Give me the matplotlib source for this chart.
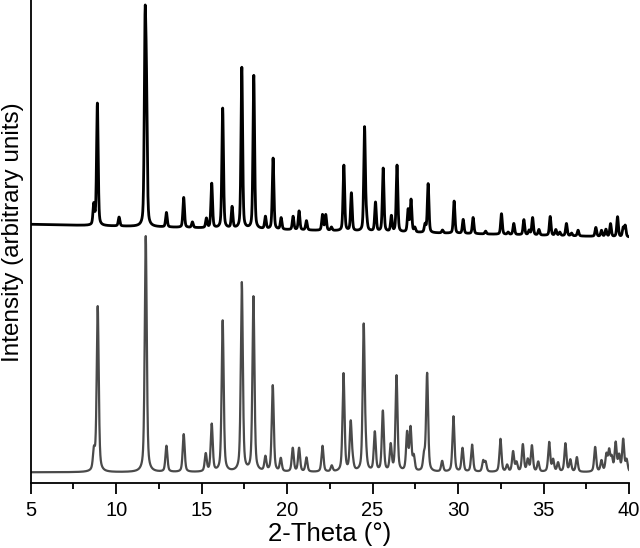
import numpy as np
import matplotlib
matplotlib.use("Agg")
import matplotlib.pyplot as plt

plt.rcParams['font.family'] = ['Liberation Sans', 'DejaVu Sans']

# ---- Simulated pattern (bottom, gray): peak positions (deg 2-theta) and relative intensities
sim_pos = [8.70, 8.92, 11.73, 12.94, 13.95, 15.24, 15.59, 16.23, 17.35, 18.03,
           18.73, 19.16, 19.63, 20.33, 20.70, 21.13, 22.07, 22.61, 23.30, 23.72,
           23.84, 24.48, 24.60, 25.13, 25.60, 26.06, 26.40, 27.02, 27.22, 27.41,
           28.01, 28.19, 29.07, 29.73, 30.26, 30.82, 31.47, 31.61, 32.48, 32.87,
           33.22, 33.42, 33.79, 34.08, 34.32, 34.69, 35.33, 35.56, 35.85, 36.28,
           36.57, 36.95, 38.02, 38.39, 38.68, 38.84, 38.99, 39.22, 39.42, 39.66, 39.86]
sim_int = [8.0, 70.0, 100.0, 11.0, 16.0, 7.5, 20.0, 64.0, 80.0, 74.0,
           6.0, 36.5, 5.5, 10.0, 10.0, 6.0, 11.0, 2.5, 41.5, 20.5,
           3.0, 61.5, 6.0, 16.5, 25.5, 11.0, 40.5, 16.0, 18.0, 6.0,
           6.0, 41.5, 4.5, 23.5, 10.0, 11.5, 4.5, 4.0, 14.0, 2.8,
           8.5, 3.8, 11.5, 5.0, 11.0, 4.2, 12.5, 5.0, 3.8, 12.0,
           5.0, 6.2, 10.5, 4.6, 7.0, 8.5, 5.5, 12.0, 6.5, 13.5, 4.8]

# ---- Experimental pattern (top, black): peak positions and relative intensities
exp_pos = [8.69, 8.90, 10.17, 11.69, 11.77, 12.94, 13.95, 14.46, 15.28, 15.59,
           16.23, 16.78, 17.35, 18.05, 18.73, 19.18, 19.65, 20.35, 20.70, 21.13,
           22.07, 22.26, 22.59, 23.32, 23.76, 24.53, 24.64, 25.17, 25.62, 26.10,
           26.43, 27.08, 27.25, 27.47, 28.07, 28.25, 29.09, 29.77, 30.30, 30.88,
           31.61, 32.54, 32.93, 33.26, 33.85, 34.16, 34.36, 34.73, 35.39, 35.72,
           35.95, 36.34, 36.64, 37.02, 38.06, 38.39, 38.65, 38.92, 39.33, 39.66, 39.78]
exp_int = [9.0, 55.0, 4.0, 84.0, 52.0, 6.5, 13.5, 2.5, 4.2, 20.0,
           54.0, 9.5, 72.5, 69.0, 5.5, 32.0, 5.2, 6.0, 8.5, 4.2,
           7.0, 7.0, 1.5, 29.5, 17.0, 46.5, 5.0, 13.0, 28.5, 7.0,
           30.0, 10.0, 14.5, 2.0, 3.5, 22.0, 1.3, 14.5, 6.3, 7.3,
           1.3, 9.3, 1.0, 5.0, 6.8, 2.0, 7.8, 2.5, 8.5, 2.6,
           1.5, 5.5, 1.2, 2.6, 4.0, 2.7, 3.2, 5.8, 9.0, 4.0, 5.0]

# experimental background level at 5 deg and 40 deg (same units as intensities)
exp_bg_start = 0.0
exp_bg_end = -5.8

x_ticks = [5, 10, 15, 20, 25, 30, 35, 40]


def pattern(x, pos, inten, fwhm=0.11, eta=0.45):
    y = np.zeros_like(x)
    g = fwhm / 2.3548
    for p, a in zip(pos, inten):
        d = x - p
        lor = 1.0 / (1.0 + (2 * d / fwhm) ** 2)
        gau = np.exp(-0.5 * (d / g) ** 2)
        y += a * (eta * lor + (1 - eta) * gau)
    return y


x = np.linspace(5, 40, 7001)
sim_y = pattern(x, sim_pos, sim_int, fwhm=0.14, eta=0.5)
exp_y = pattern(x, exp_pos, exp_int, fwhm=0.11, eta=0.4)
exp_y = exp_y + exp_bg_start + (exp_bg_end - exp_bg_start) * (x - 5) / 35.0

# vertical placement (layout)
sim_offset, sim_scale = 11.0, 2.36
exp_offset, exp_scale = 259.0, 2.22

fig = plt.figure(figsize=(6.4, 5.48), dpi=100)
ax = fig.add_axes([30.7 / 640, (548 - 483.3) / 548, (629 - 30.7) / 640, 483.3 / 548])

ax.plot(x, sim_offset + sim_scale * sim_y, color='#4a4a4a', lw=1.6)
ax.plot(x, exp_offset + exp_scale * exp_y, color='black', lw=2.0)

ax.set_xlim(5, 40)
ax.set_ylim(0, 483.3)
ax.set_xticks(x_ticks)
ax.set_xticks(np.arange(7.5, 40, 5), minor=True)
ax.set_yticks([])
ax.spines['top'].set_visible(False)
ax.spines['right'].set_visible(False)
ax.spines['left'].set_linewidth(1.3)
ax.spines['bottom'].set_linewidth(1.3)
ax.tick_params(axis='x', which='major', direction='out', length=8, width=1.3,
               labelsize=14.5, pad=5)
ax.tick_params(axis='x', which='minor', direction='out', length=4.5, width=1.3)
ax.set_xlabel('2-Theta (°)', fontsize=18.5, labelpad=1)
ax.set_ylabel('Intensity (arbitrary units)', fontsize=17.5, labelpad=5)
ax.yaxis.set_label_coords(-0.012, 0.52)

fig.savefig('out.png', dpi=100)
